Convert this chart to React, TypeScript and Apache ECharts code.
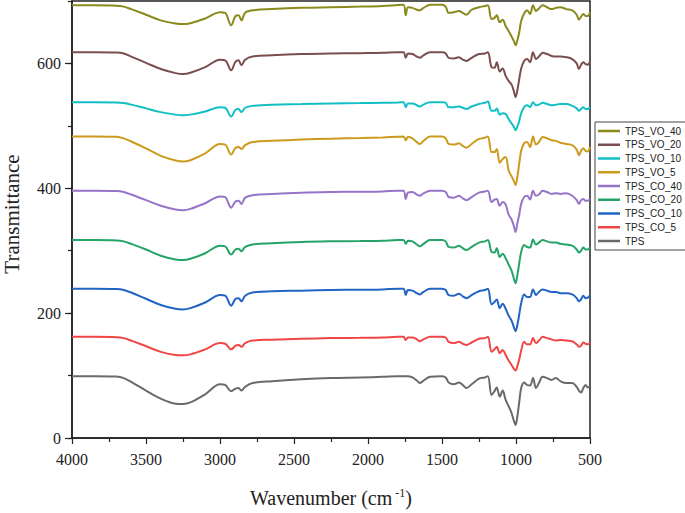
import React, { useEffect, useRef } from "react";
import * as echarts from "echarts";

const wavenumbers = [
  4000, 3850, 3700, 3650, 3600, 3500, 3400, 3300, 3250, 3200,
  3100, 3000, 2965, 2925, 2895, 2875, 2855, 2830, 2780, 2650,
  2450, 2250, 2050, 1900, 1800, 1760, 1745, 1730, 1700, 1670,
  1650, 1625, 1580, 1500, 1475, 1455, 1420, 1385, 1360, 1335,
  1300, 1250, 1210,
  1190, 1165, 1145, 1130, 1110, 1090, 1070, 1050, 1030, 1015,
  1003, 990, 978, 965, 945, 925, 905, 885, 865, 845,
  820, 790, 760, 730, 700, 660, 620, 590, 575, 560,
  545, 530, 515, 500,
];

const TPS = [
  99, 99, 98.5, 96, 90, 76, 63, 55, 54.5, 57,
  70, 86, 85, 75, 79, 80, 76, 82, 88, 91,
  94, 96, 97, 98, 99, 99, 99, 99, 97, 92,
  88, 92, 98, 99, 97, 89, 86, 89, 85, 80,
  86, 95, 97,
  99, 69, 75, 81, 66, 76, 61, 51, 40, 28,
  21, 36, 58, 80, 89, 85, 84, 96, 80, 88,
  98, 96, 93, 96, 91, 88, 88, 82, 76, 73,
  80, 85, 81, 83,
];

const TPS_CO_5 = [
  162, 162, 161.5, 160, 156, 147, 138, 133, 132.5, 134,
  142, 152, 151, 142, 148, 149, 146, 152, 156, 157.5,
  159, 160, 160.5, 161, 162, 162, 157, 161, 161, 158,
  155, 158, 162, 162, 161, 154, 152, 154, 151, 149,
  153, 159, 160,
  162, 138, 142, 146, 136, 141, 133, 124, 117, 111,
  108, 116, 126, 140, 154, 150, 150, 160, 152, 156,
  162, 160, 158, 156, 157, 156, 155, 150, 146, 148,
  153, 151, 150, 152,
];

const TPS_CO_10 = [
  239, 239, 238.5, 237, 233, 223, 213, 207, 206, 208,
  217, 229, 228, 212, 223, 224, 219, 228, 233, 235,
  236, 237, 237.5, 238, 239, 239, 229, 237, 236, 232,
  230, 234, 239, 239, 237, 229, 228, 231, 227, 224,
  229, 235, 237,
  239, 214, 218, 222, 208, 215, 207, 196, 188, 178,
  171, 182, 198, 216, 230, 226, 226, 238, 229, 234,
  238, 236, 234, 234, 232, 232, 230, 224, 219, 222,
  228, 224, 225, 228,
];

const TPS_CO_20 = [
  317, 317, 316.5, 315, 311, 302, 292, 286, 285, 287,
  296, 308, 307, 294, 302, 303, 299, 306, 310, 312,
  314, 315, 315.5, 316, 317, 317, 311, 316, 315, 310,
  307, 311, 317, 317, 315, 306, 305, 308, 304, 301,
  306, 313, 315,
  317, 298, 297, 304, 290, 295, 288, 278, 268, 256,
  248, 262, 280, 298, 309, 306, 305, 318, 310, 313,
  317, 315, 313, 313, 311, 310, 308, 302, 297, 300,
  305, 302, 302, 305,
];

const TPS_CO_40 = [
  396, 396, 395.5, 394, 390, 381, 372, 366, 365, 367,
  376, 387, 386, 369, 379, 380, 375, 385, 389, 391,
  393, 394, 394.5, 395, 396, 396, 383, 393, 394, 390,
  388, 392, 396, 396, 394, 386, 385, 388, 384, 381,
  386, 393, 395,
  396, 378, 382, 383, 372, 378, 374, 358, 350, 340,
  330, 345, 358, 375, 386, 388, 382, 396, 388, 390,
  396, 394, 391, 392, 391, 392, 388, 381, 375, 381,
  383, 380, 380, 383,
];

const TPS_VO_5 = [
  483, 483, 482.5, 480, 475, 464, 452, 444.5, 443, 445,
  456, 471, 470, 454, 465, 466, 463, 469, 474, 476,
  478, 479.5, 480.5, 481.5, 482.5, 483, 477, 482, 480, 474,
  471, 476, 483, 483, 480, 471, 470, 472, 468, 465,
  471, 479, 481,
  483, 458, 458, 463, 441, 447, 450, 429, 419, 412,
  405, 420, 440, 460, 472, 474, 466, 483, 470, 474,
  482, 480, 477, 476, 473, 471, 469, 462, 453, 460,
  464, 460, 459, 466,
];

const TPS_VO_10 = [
  538, 538, 537.5, 536.5, 534, 528, 522, 518, 517, 518,
  523, 530, 529, 515, 526, 527, 522, 529, 532, 534,
  535, 536, 536.5, 537, 537.5, 538, 530, 536, 536, 533,
  531, 534, 538, 538, 537, 530, 530, 531, 529, 527,
  531, 535, 537,
  539, 524, 524, 528, 518, 520, 519, 511, 504, 499,
  493, 499, 508, 520, 530, 533, 530, 538, 533, 534,
  537, 535, 533, 534, 535, 535, 532, 528, 524, 527,
  530, 527, 527, 530,
];

const TPS_VO_20 = [
  618, 618, 617.5, 616, 611, 601, 591, 584.5, 583, 585,
  594, 606, 605, 589, 603, 605, 597, 606, 611, 613,
  615, 616, 616.5, 617, 618, 618, 609, 616, 615, 611,
  609, 613, 618, 618, 616, 609, 608, 610, 606, 604,
  609, 615, 616,
  618, 594, 593, 602, 587, 592, 580, 572, 566, 556,
  546, 558, 575, 592, 604, 607, 602, 618, 607, 611,
  617, 615, 612, 611, 611, 610, 607, 600, 591, 598,
  602, 599, 598, 603,
];

const TPS_VO_40 = [
  693, 693, 692.5, 691, 687, 678, 669, 664, 663, 664.5,
  672, 682, 681, 661, 676, 677, 669, 681, 685, 687,
  689, 690, 691, 692, 693.5, 694, 677, 690, 689, 686,
  685, 689, 694, 694, 691, 681, 682, 684, 681, 678,
  686, 690, 692,
  693, 671, 673, 677, 666, 670, 660, 652, 643, 636,
  629, 638, 650, 668, 680, 685, 679, 693, 684, 688,
  693, 690, 687, 689, 690, 687, 685, 678, 670, 675,
  679, 676, 676, 682,
];

const seriesNames = [
  "TPS_VO_40", "TPS_VO_20", "TPS_VO_10", "TPS_VO_5",
  "TPS_CO_40", "TPS_CO_20", "TPS_CO_10", "TPS_CO_5", "TPS",
];
const seriesValues = [
  TPS_VO_40, TPS_VO_20, TPS_VO_10, TPS_VO_5,
  TPS_CO_40, TPS_CO_20, TPS_CO_10, TPS_CO_5, TPS,
];
const seriesColors = [
  "#8a8a1c", "#7a4e4e", "#12bfc4", "#cc9a1c",
  "#9674c8", "#25a468", "#2264c4", "#f04646", "#6a6a6a",
];

const xTicks = { min: 500, max: 4000, interval: 500 };
const yTicks = { min: 0, max: 700, interval: 200 };

const serif = "'Liberation Serif', 'Times New Roman', serif";
const sans = "'Liberation Sans', Arial, sans-serif";

export default function App() {
  const ref = useRef<HTMLDivElement>(null);
  useEffect(() => {
    if (!ref.current) return;
    const chart = echarts.init(ref.current, null, { renderer: "svg" });
    const series = seriesNames.map((name, i) => ({
      name,
      type: "line",
      data: wavenumbers.map((w, j) => [w, seriesValues[i][j]]),
      showSymbol: false,
      symbol: "none",
      smooth: 0.35,
      lineStyle: { width: 2, color: seriesColors[i] },
      itemStyle: { color: seriesColors[i] },
      xAxisIndex: 0,
      yAxisIndex: 0,
    }));
    chart.setOption({
      animation: false,
      backgroundColor: "#ffffff",
      grid: {
        left: 72,
        right: 95,
        top: 1,
        bottom: 75,
        show: true,
        borderColor: "#222",
        borderWidth: 1.5,
        backgroundColor: "transparent",
      },
      legend: {
        data: seriesNames,
        orient: "vertical",
        left: 595,
        top: 122,
        padding: [3, 8, 3, 3],
        icon: "rect",
        itemWidth: 22,
        itemHeight: 2.5,
        itemGap: 1.75,
        borderColor: "#444",
        borderWidth: 1,
        textStyle: { fontFamily: sans, fontSize: 10, color: "#222", lineHeight: 12, height: 12 },
      },
      xAxis: {
        type: "value",
        min: xTicks.min,
        max: xTicks.max,
        interval: xTicks.interval,
        inverse: true,
        axisLine: { show: true, onZero: false, lineStyle: { color: "#222", width: 1.5 } },
        axisTick: { show: true, length: 6, lineStyle: { color: "#222", width: 1.2 } },
        minorTick: { show: true, splitNumber: 2, length: 4, lineStyle: { color: "#222", width: 1.2 } },
        splitLine: { show: false },
        axisLabel: {
          fontFamily: serif, fontSize: 16, color: "#222", margin: 13,
          formatter: (v: number) => String(v),
        },
      },
      yAxis: [
        {
          type: "value",
          min: yTicks.min,
          max: yTicks.max,
          interval: yTicks.interval,
          position: "left",
          axisLine: { show: true, lineStyle: { color: "#222", width: 1.5 } },
          axisTick: { show: true, length: 7, lineStyle: { color: "#222", width: 1.2 } },
          splitLine: { show: false },
          axisLabel: {
            fontFamily: serif, fontSize: 16, color: "#222", margin: 11, showMaxLabel: false,
            formatter: (v: number) => String(v),
          },
        },
        {
          type: "value",
          min: yTicks.min,
          max: yTicks.max,
          interval: 100,
          position: "left",
          axisLine: { show: false },
          axisTick: { show: true, length: 4, lineStyle: { color: "#222", width: 1.2 } },
          splitLine: { show: false },
          axisLabel: { show: false },
        },
      ],
      graphic: [
        {
          type: "text",
          x: 12,
          y: 214,
          rotation: Math.PI / 2,
          style: {
            text: "Transmittance",
            font: `21px ${serif}`,
            fill: "#222",
            textAlign: "center",
            textVerticalAlign: "middle",
            align: "center",
            verticalAlign: "middle",
          },
        },
        {
          type: "text",
          x: 331,
          y: 498,
          style: {
            text: "{a|Wavenumber (cm}{b| -1}{a|)}",
            fill: "#222",
            textAlign: "center",
            textVerticalAlign: "middle",
            align: "center",
            verticalAlign: "middle",
            rich: {
              a: { fontFamily: serif, fontSize: 20, color: "#222", lineHeight: 22 },
              b: { fontFamily: serif, fontSize: 12, color: "#222", lineHeight: 22, verticalAlign: "top", padding: [0, 0, 10, 0] },
            },
          },
        },
      ],
      series,
    });
    return () => chart.dispose();
  }, []);
  return (
    <div
      ref={ref}
      style={{ position: "fixed", left: 0, top: 0, width: 685, height: 513, background: "#fff" }}
    />
  );
}
